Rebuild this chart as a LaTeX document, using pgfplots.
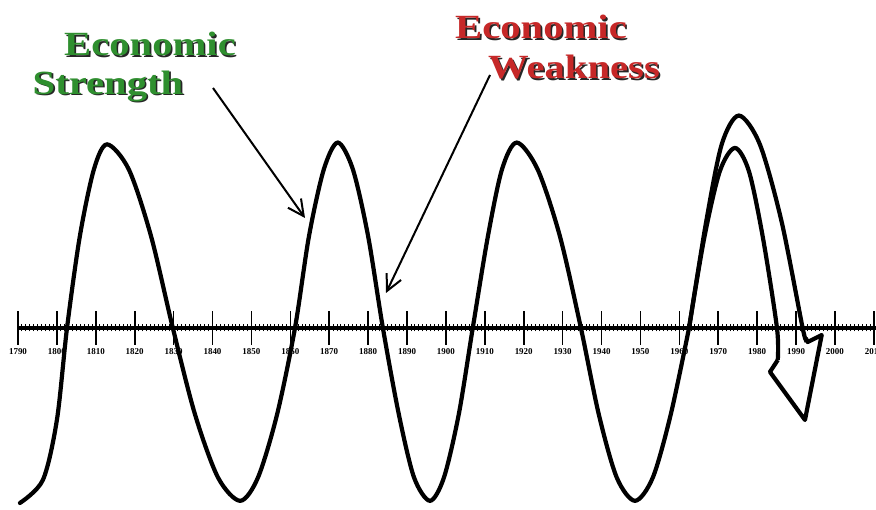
\documentclass[border=0pt]{standalone}
\usepackage{pgfplots}
\pgfplotsset{compat=1.18}
\usepackage{fontspec}
\setmainfont{Liberation Serif}
\newfontfamily\headfont[FakeStretch=1.2]{Liberation Serif}
\usetikzlibrary{arrows.meta}
\definecolor{strong}{HTML}{2F8F2F}
\definecolor{weak}{HTML}{C62828}

\newcommand{\shadowtext}[4]{%
  \node[font=\headfont\bfseries\fontsize{34}{34}\selectfont, text=black!85] at (#1+1.6,#2-1.6) {#4};
  \node[font=\headfont\bfseries\fontsize{34}{34}\selectfont, text=#3] at (#1,#2) {#4};}

\begin{document}
\begin{tikzpicture}[x=1bp,y=1bp]
\path (0,0) rectangle (876,510);
\begin{axis}[
  at={(18bp,0bp)}, anchor=south west,
  scale only axis, width=858bp, height=510bp,
  xmin=1790, xmax=2010.56, ymin=-1.011, ymax=1.822,
  axis x line=middle, axis y line=none,
  axis line style={-, line width=4bp},
  xtick={1790,1800,...,2010}, minor x tick num=9,
  ytick=\empty,
  tick align=center,
  major tick length=34bp, minor tick length=7bp,
  every major tick/.style={line width=1.6bp, black},
  every minor tick/.style={line width=0.8bp, black},
  xticklabel style={font=\bfseries\fontsize{9}{9}\selectfont},
  /pgf/number format/1000 sep={},
  /pgf/number format/assume math mode=true,
  clip=false,
]
% main wave, 1790-1962
\addplot[line width=4.2bp, smooth, line cap=round] coordinates {
  (1790.5,-0.972) (1796.4,-0.844) (1800.0,-0.511) (1802.6,0)
  (1805.9,0.51) (1809.5,0.88) (1812.9,1.02)
  (1818.5,0.88) (1824.2,0.51) (1829.8,0)
  (1835.5,-0.48) (1841.4,-0.83) (1847.1,-0.96)
  (1851.7,-0.83) (1856.6,-0.48) (1861.2,0)
  (1864.8,0.51) (1868.6,0.88) (1872.2,1.03)
  (1876.1,0.88) (1880.0,0.51) (1883.8,0)
  (1887.9,-0.48) (1891.8,-0.83) (1895.9,-0.96)
  (1899.5,-0.83) (1903.3,-0.48) (1906.9,0)
  (1910.8,0.51) (1914.4,0.88) (1918.2,1.03)
  (1923.6,0.88) (1929.3,0.51) (1934.7,0)
  (1939.3,-0.48) (1943.9,-0.83) (1948.6,-0.96)
  (1953.2,-0.83) (1957.8,-0.48) (1962.5,0)
};
% inner forecast
\addplot[line width=4.2bp, smooth] coordinates {
  (1962.5,0) (1966.4,0.50) (1970.4,0.87) (1974.3,1.00)
  (1977.9,0.87) (1981.5,0.50) (1985.1,0) (1985.3,-0.178)
};
% outer forecast
\addplot[line width=4.2bp, smooth] coordinates {
  (1962.5,0) (1966.9,0.59) (1970.9,1.02) (1975.3,1.18)
  (1980.7,1.02) (1986.3,0.59) (1991.7,0) (1992.5,-0.056)
};
% arrow head joining the two
\addplot[line width=4.2bp, line join=round] coordinates {
  (1985.3,-0.178) (1983.3,-0.244) (1992.3,-0.511) (1996.6,-0.039)
  (1993.0,-0.078) (1992.5,-0.056)
};
\end{axis}
\draw[line width=2bp, -{Straight Barb[length=16bp,width=16bp,line width=2bp]}] (213,422) -- (305,292);
\draw[line width=2bp, -{Straight Barb[length=16bp,width=16bp,line width=2bp]}] (490,435) -- (386,217);
\shadowtext{150}{466}{strong}{Economic}
\shadowtext{108}{424}{strong}{Strength}
\shadowtext{541}{483}{weak}{Economic}
\shadowtext{574}{443}{weak}{Weakness}
\pgfresetboundingbox
\path[use as bounding box] (0,0) rectangle (876,510);
\end{tikzpicture}
\end{document}
